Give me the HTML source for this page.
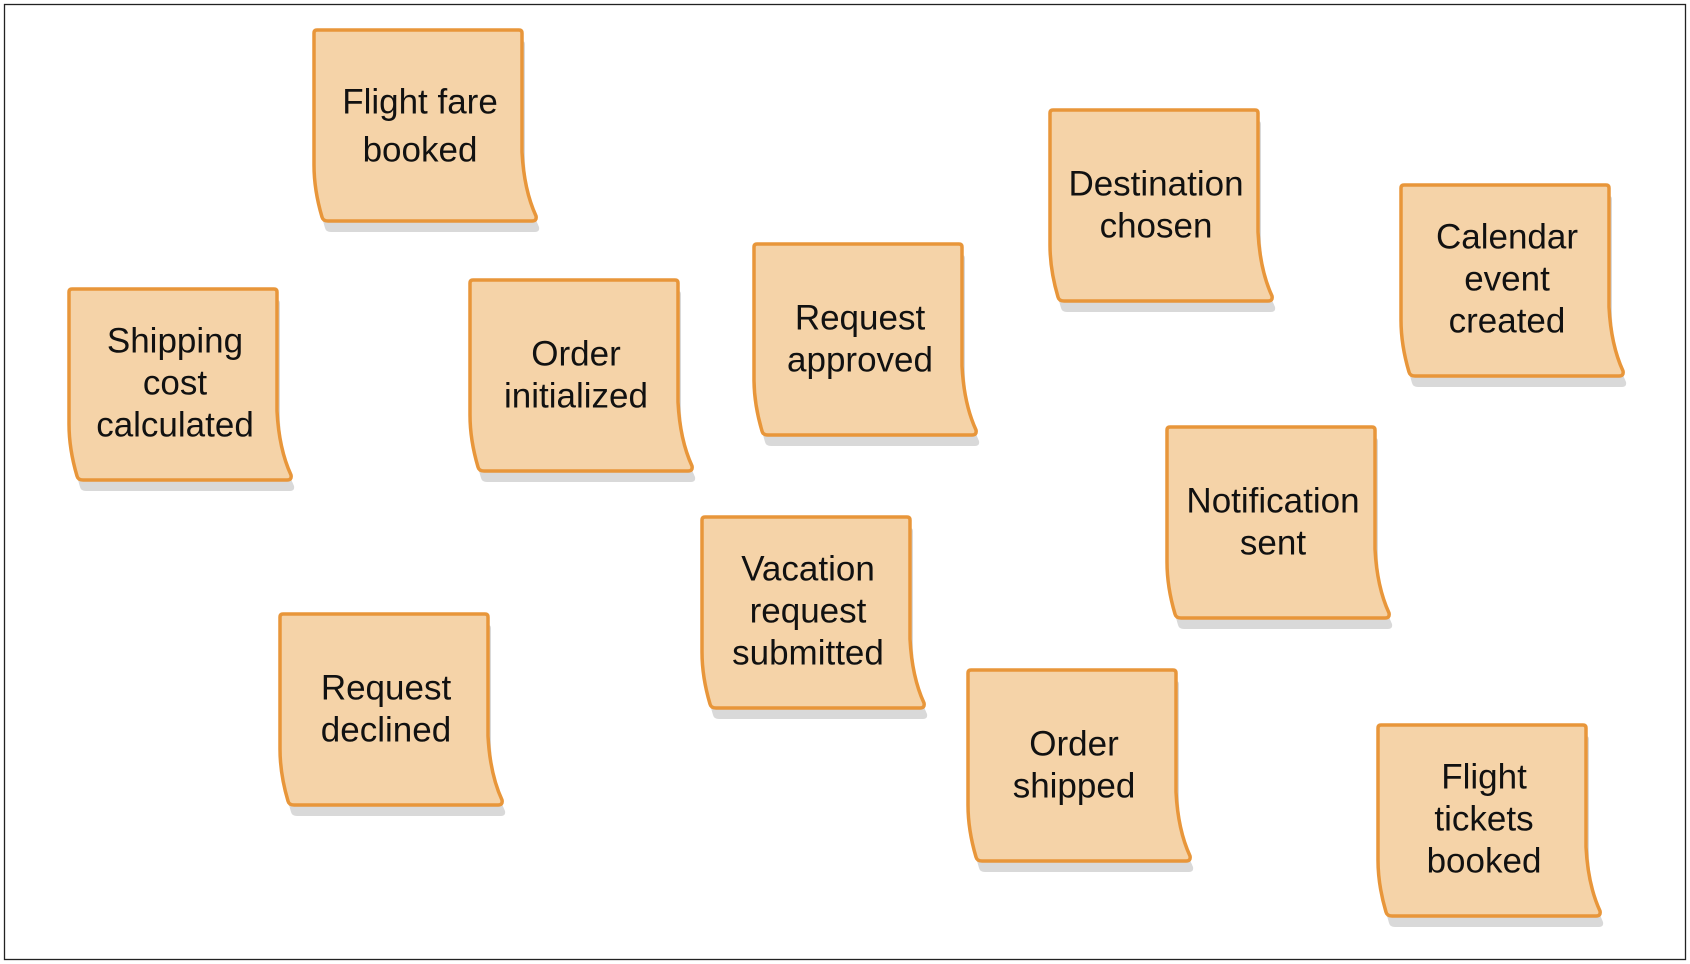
<!DOCTYPE html>
<html><head><meta charset="utf-8"><style>
html,body{margin:0;padding:0;background:#fff;}
svg{display:block;}
text{font-family:"Liberation Sans Narrow","Liberation Sans",sans-serif;font-size:35px;fill:#111;text-anchor:middle;dominant-baseline:central;}
</style></head><body>
<svg width="1690" height="964" viewBox="0 0 1690 964" xmlns="http://www.w3.org/2000/svg">
<defs>
<path id="n" d="M3,0 L205,0 Q208,0 208,3 L208,122 Q210,160 222,186 Q223,191 218,191 L14,191 Q9,191 8,187 Q0,160 0,135 L0,3 Q0,0 3,0 Z"/>
<g id="note">
<use href="#n" transform="translate(3,11)" fill="#d9d9d9"/>
<use href="#n" fill="#f5d3a8" stroke="#e8963a" stroke-width="3.5" stroke-linejoin="round"/>
</g>
</defs>
<rect x="4.5" y="4.5" width="1681" height="955" fill="#fff" stroke="#222" stroke-width="1.3"/>

<g transform="translate(314,30)"><use href="#note"/><text x="106" y="72">Flight fare</text><text x="106" y="120">booked</text></g>
<g transform="translate(1050,110)"><use href="#note"/><text x="106" y="74">Destination</text><text x="106" y="116">chosen</text></g>
<g transform="translate(1401,185)"><use href="#note"/><text x="106" y="52">Calendar</text><text x="106" y="94">event</text><text x="106" y="136">created</text></g>
<g transform="translate(69,289)"><use href="#note"/><text x="106" y="52">Shipping</text><text x="106" y="94">cost</text><text x="106" y="136">calculated</text></g>
<g transform="translate(470,280)"><use href="#note"/><text x="106" y="74">Order</text><text x="106" y="116">initialized</text></g>
<g transform="translate(754,244)"><use href="#note"/><text x="106" y="74">Request</text><text x="106" y="116">approved</text></g>
<g transform="translate(1167,427)"><use href="#note"/><text x="106" y="74">Notification</text><text x="106" y="116">sent</text></g>
<g transform="translate(702,517)"><use href="#note"/><text x="106" y="52">Vacation</text><text x="106" y="94">request</text><text x="106" y="136">submitted</text></g>
<g transform="translate(280,614)"><use href="#note"/><text x="106" y="74">Request</text><text x="106" y="116">declined</text></g>
<g transform="translate(968,670)"><use href="#note"/><text x="106" y="74">Order</text><text x="106" y="116">shipped</text></g>
<g transform="translate(1378,725)"><use href="#note"/><text x="106" y="52">Flight</text><text x="106" y="94">tickets</text><text x="106" y="136">booked</text></g>
</svg>
</body></html>
